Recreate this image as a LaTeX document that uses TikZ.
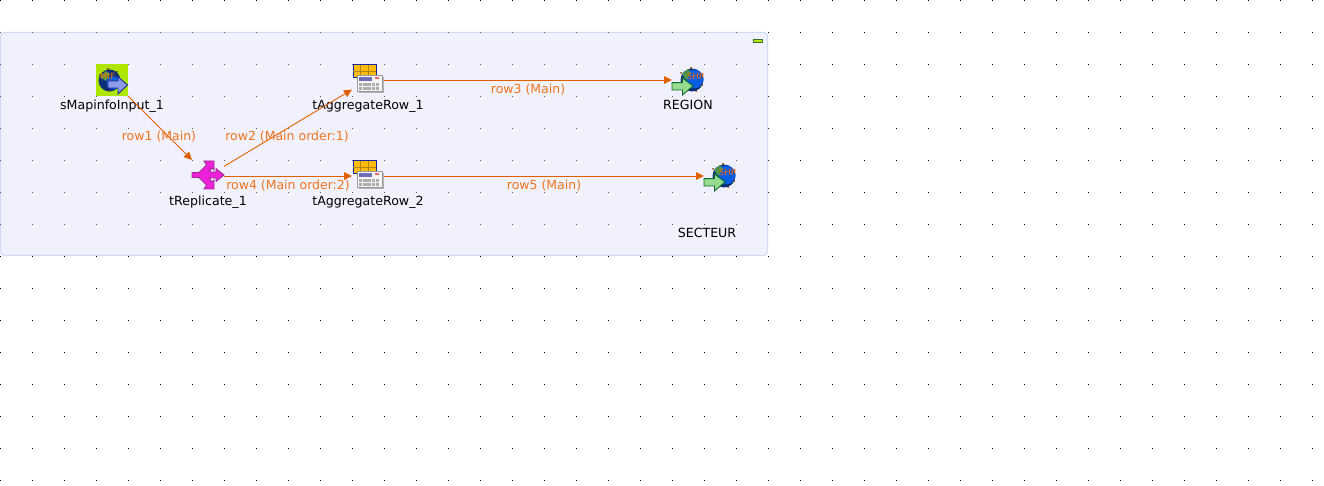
\documentclass[tikz,border=0pt]{standalone}
\usepackage{fontspec}
\setmainfont{DejaVu Sans}
\usetikzlibrary{arrows.meta}

\definecolor{flowline}{HTML}{E06000}
\definecolor{flowtext}{HTML}{EE7420}
\definecolor{panelfill}{HTML}{F1F1FD}
\definecolor{panelline}{HTML}{CFDAF6}
\definecolor{limeback}{HTML}{AEE600}
\definecolor{globeblue}{HTML}{0A5CE0}
\definecolor{globedark}{HTML}{0C2F78}
\definecolor{mifarrow}{HTML}{8C9CE8}
\definecolor{mifedge}{HTML}{1C2C90}
\definecolor{shparrow}{HTML}{96DC8C}
\definecolor{shpedge}{HTML}{0C6A2C}
\definecolor{replfill}{HTML}{EC20D8}
\definecolor{repledge}{HTML}{A02C98}
\definecolor{tablefill}{HTML}{FFBC10}
\definecolor{tableedge}{HTML}{16289C}
\definecolor{tinytext}{HTML}{FF6A00}

\tikzset{
	icon/.style={minimum size=32pt, inner sep=0pt, outer sep=0pt},
	jobname/.style={font=\fontsize{12.6}{14}\selectfont, text=black, inner sep=0pt, anchor=base},
	rowname/.style={font=\fontsize{12.5}{14}\selectfont, text=flowtext, inner sep=0pt, anchor=base},
	flow/.style={-{Triangle[length=8pt,width=7.5pt]}, draw=flowline, line width=0.9pt},
	tiny label/.style={font=\fontsize{8.6}{9}\selectfont, text=tinytext, inner sep=0pt},
	speck/.style={fill=black!55!orange},
	mifin/.pic={
		\fill[limeback] (-16,-16) rectangle (16,16);
		\fill[globedark] (-2.5,0.5) circle (11);
		\fill[globeblue] (1,3) circle (6.5);
		\fill[green!45!black!70] (-12,-3) -- (-6,-9) -- (-2,-6) -- (-6,1) -- cycle;
		\fill[speck] (-4,-11) circle (1.2) (-12,-5) circle (1) (5,-8) circle (1) (-3,11) circle (1);
		\fill[draw=mifedge, fill=mifarrow, line width=0.9pt] (-4,1) -- (6,1) -- (6,-3.3) -- (15.5,5) -- (6,14) -- (6,8) -- (-4,8) -- cycle;
		\node[tiny label] (-mif) at (-4.5,-3.5) {MIF};
	},
	shpout/.pic={
		\fill[globedark] (4,0) circle (11.5);
		\fill[globeblue] (6,-1) circle (9.5);
		\fill[green!40!black!70] (-6,-6) -- (0,-11) -- (3,-7) -- (-2,0) -- cycle;
		\fill[speck] (3,-12) circle (1.2) (-7,-7) circle (1) (14,-3) circle (1) (8,11) circle (1) (14,5) circle (1);
		\fill[draw=shpedge, fill=shparrow, line width=0.9pt] (-16,2.7) -- (-5.5,2.7) -- (-5.5,-2) -- (5,6) -- (-5.5,15) -- (-5.5,10) -- (-16,10) -- cycle;
		\node[tiny label] (-shp) at (7.5,-4) {SHP};
	},
	replicate/.pic={
		\fill[draw=repledge, fill=replfill, line width=0.9pt] (-16,-3.5) -- (-9,-3.5) -- (-1.5,-11) -- (-4,-15) -- (6,-15) -- (6,-6) -- (3.5,-8) -- (1.5,-4) -- (8,-4) -- (8,-7.5) -- (16,-1) -- (8,5.5) -- (8,2) -- (1.5,2) -- (3.5,6) -- (6,4) -- (6,13) -- (-4,13) -- (-1.5,9) -- (-9,1.5) -- (-16,1.5) -- cycle;
	},
	aggregate/.pic={
		\fill[draw=tableedge, fill=tablefill, line width=1pt] (-15,-15) rectangle (8.3,-2.3);
		\draw[tablefill!70!black, line width=0.6pt] (-15,-9) -- (8.3,-9) (-7.3,-15) -- (-7.3,-2.3) (0.7,-15) -- (0.7,-2.3);
		\fill[black!30] (-9.5,-3) rectangle (15.5,13.5);
		\fill[draw=black!40, fill=black!4, line width=0.7pt] (-10.7,-5) rectangle (14.3,11.7);
		\fill[blue!35!gray!85] (-9,-2.7) rectangle (4,1.3);
		\fill[red!60] (7,-3) rectangle (11,-1);
		\foreach \kx in {-9,-4.8,-0.6,3.6,7.8}
			\foreach \ky in {3.5,7.5}
				\fill[black!32] (\kx,\ky) rectangle ++(3.4,2.6);
	}
}

\begin{document}
\begin{tikzpicture}[x=1pt,y=-1pt]
	\useasboundingbox (0,0) rectangle (1324,486);

	% dots of the editor
	\foreach \x in {0,32,...,1312}
		\foreach \y in {0,32,...,480}
			\fill[black] (\x,\y) rectangle ++(1.2,1.2);

	% subjob
	\fill[panelfill, draw=panelline, line width=1pt, rounded corners=4pt] (0.5,32.5) rectangle (767.5,255.5);
	\foreach \x in {0,32,...,736}
		\foreach \y in {32,64,...,224}
			\fill[black!65] (\x,\y) rectangle ++(1.2,1.2);
	\fill[draw=green!30!black!80, fill=limeback!85!yellow, line width=1pt] (753.5,39.5) rectangle (762.5,42.5);

	% components
	\node[icon] (mapinfo) at (112,80) {};
	\node[icon] (replicate) at (208,176) {};
	\node[icon] (aggone) at (368,80) {};
	\node[icon] (aggtwo) at (368,176) {};
	\node[icon] (region) at (688,80) {};
	\node[icon] (secteur) at (720,176) {};

	\pic at (mapinfo) {mifin};
	\pic at (replicate) {replicate};
	\pic at (aggone) {aggregate};
	\pic at (aggtwo) {aggregate};
	\pic at (region) {shpout};
	\pic at (secteur) {shpout};

	\node[jobname] (mapinfoname) at (112,110) {sMapinfoInput\_1};
	\node[jobname] (replicatename) at (208,205.5) {tReplicate\_1};
	\node[jobname] (agg1name) at (368,110) {tAggregateRow\_1};
	\node[jobname] (agg2name) at (368,205.5) {tAggregateRow\_2};
	\node[jobname] (regionname) at (688,110) {REGION};
	\node[jobname] (secteurname) at (707,237) {SECTEUR};

	% rows
	\draw[flow] (mapinfo) -- (replicate);
	\draw[flow] (replicate) -- (aggone);
	\draw[flow] (aggone) -- (region);
	\draw[flow] (replicate) -- (aggtwo);
	\draw[flow] (aggtwo) -- (secteur);

	\node[rowname] (row1) at (159,140.5) {row1 (Main)};
	\node[rowname] (row2) at (287,140.5) {row2 (Main order:1)};
	\node[rowname] (row3) at (528,93.5) {row3 (Main)};
	\node[rowname] (row4) at (288,189.5) {row4 (Main order:2)};
	\node[rowname] (row5) at (544,189.5) {row5 (Main)};
\end{tikzpicture}
\end{document}
